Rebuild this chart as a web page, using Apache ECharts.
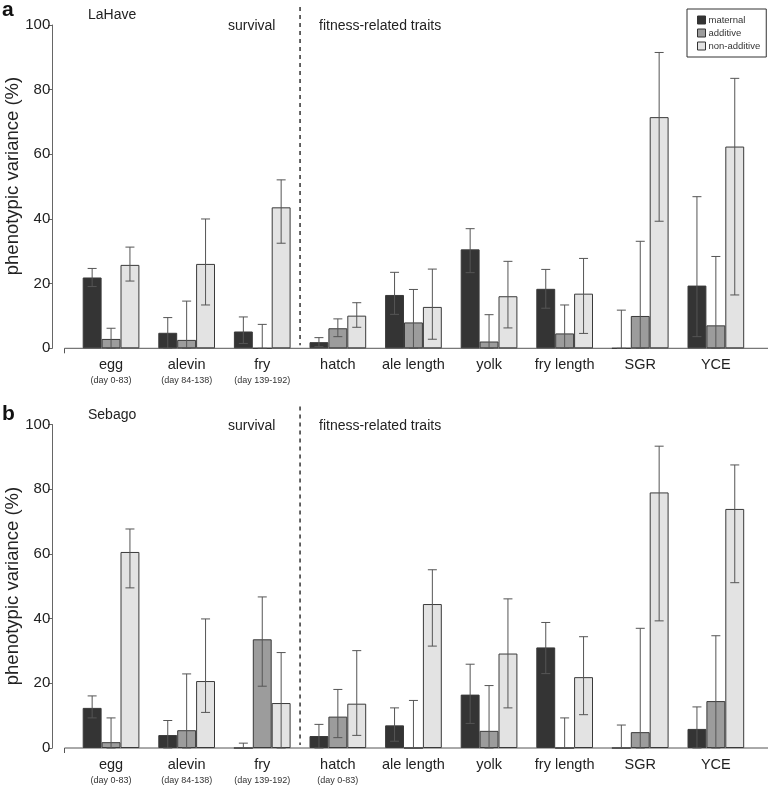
<!DOCTYPE html>
<html><head><meta charset="utf-8">
<script src="https://cdn.jsdelivr.net/npm/echarts@6/dist/echarts.min.js"></script>
<style>html,body{margin:0;padding:0;background:#fff}#c{width:773px;height:790px}</style>
</head><body><div id="c"></div>
<script>
var categories = ['egg','alevin','fry','hatch','ale length','yolk','fry length','SGR','YCE'];
var subLabelsA = ['(day 0-83)','(day 84-138)','(day 139-192)','','','','','',''];
var subLabelsB = ['(day 0-83)','(day 84-138)','(day 139-192)','(day 0-83)','','','','',''];
var seriesNames = ['maternal','additive','non-additive'];
var yTicks = [0,20,40,60,80,100];

// Panel a (LaHave)
var aMaternal    = [21.9, 4.8, 5.2, 1.9, 16.5, 30.6, 18.4, 0, 19.4];
var aMaternalLo  = [19.1, 0, 1.5, 0.5, 10.5, 23.4, 12.4, 0, 3.6];
var aMaternalHi  = [24.7, 9.5, 9.7, 3.3, 23.5, 37.0, 24.4, 11.8, 46.9];
var aAdditive    = [2.9, 2.6, 0, 6.2, 8.0, 2.1, 4.6, 10.0, 7.1];
var aAdditiveLo  = [0, 0, 0, 3.6, 0, 0, 0, 0, 0];
var aAdditiveHi  = [6.2, 14.6, 7.4, 9.1, 18.2, 10.4, 13.4, 33.1, 28.4];
var aNonAdd      = [25.8, 26.1, 43.6, 10.1, 12.8, 16.1, 16.9, 71.5, 62.4];
var aNonAddLo    = [20.8, 13.4, 32.5, 6.5, 2.8, 6.3, 4.6, 39.3, 16.5];
var aNonAddHi    = [31.3, 40.0, 52.1, 14.1, 24.5, 26.9, 27.8, 91.5, 83.5];

// Panel b (Sebago)
var bMaternal    = [12.4, 4.0, 0, 3.7, 7.0, 16.5, 31.1, 0, 5.9];
var bMaternalLo  = [9.3, 0, 0, 0, 2.1, 7.6, 23.0, 0, 0];
var bMaternalHi  = [16.1, 8.5, 1.5, 7.3, 12.4, 25.9, 38.8, 7.1, 12.7];
var bAdditive    = [1.8, 5.5, 33.6, 9.7, 0, 5.3, 0, 4.9, 14.5];
var bAdditiveLo  = [0, 0, 19.1, 3.2, 0, 0, 0, 0, 0];
var bAdditiveHi  = [9.3, 22.9, 46.7, 18.1, 14.7, 19.3, 9.3, 37.0, 34.7];
var bNonAdd      = [60.6, 20.7, 13.9, 13.7, 44.5, 29.2, 21.9, 79.0, 73.9];
var bNonAddLo    = [49.5, 11.0, 0, 3.9, 31.5, 12.4, 10.3, 39.3, 51.1];
var bNonAddHi    = [67.7, 39.9, 29.5, 30.1, 55.1, 46.1, 34.4, 93.3, 87.5];

var colors = ['#343434', '#9c9c9c', '#e3e3e3'];
var FONT = '"Liberation Sans", Arial, sans-serif';

var chart = echarts.init(document.getElementById('c'), null, {renderer:'canvas'});

function errData(lo, hi){ return lo.map(function(l,i){ return [i, l, hi[i]]; }); }
function errRender(k){
  return function(params, api){
    var x = api.value(0), lo = api.value(1), hi = api.value(2);
    var bw = api.size([1,0])[0];
    var cx = api.coord([x,0])[0] + (k-1)*bw/4;
    var yl = api.coord([x,lo])[1], yh = api.coord([x,hi])[1];
    var hw = 4.5;
    var st = {stroke:'#555', lineWidth:1};
    return {type:'group', children:[
      {type:'line', shape:{x1:cx,y1:yl,x2:cx,y2:yh}, style:st},
      {type:'line', shape:{x1:cx-hw,y1:yh,x2:cx+hw,y2:yh}, style:st},
      {type:'line', shape:{x1:cx-hw,y1:yl,x2:cx+hw,y2:yl}, style:st}
    ]};
  };
}

var grids = [
  {left:73.25, right:19.35, top:25, height:323.3},
  {left:73.25, right:19.35, top:424.5, height:323.5}
];
function xAx(gi, subs){
  return {type:'category', gridIndex:gi, data:categories,
    axisLine:{show:false}, axisTick:{show:false},
    axisLabel:{interval:0, margin:8, color:'#222', fontFamily:FONT,
      formatter:function(v,i){ return subs[i] ? '{m|'+v+'}\n{s|'+subs[i]+'}' : '{m|'+v+'}'; },
      rich:{m:{fontSize:14.5, lineHeight:17, fontFamily:FONT, color:'#222'},
            s:{fontSize:9, lineHeight:15, fontFamily:FONT, color:'#333'}}}};
}
function yAx(gi){
  return {type:'value', gridIndex:gi, min:0, max:100, interval:20, offset:21,
    axisLine:{show:true, lineStyle:{color:'#666', width:1}},
    axisTick:{show:true, length:4, lineStyle:{color:'#666'}},
    axisLabel:{margin:2, fontSize:15, color:'#222', fontFamily:FONT},
    splitLine:{show:false}};
}

var series = [];
var panels = [
  {vals:[aMaternal,aAdditive,aNonAdd], lo:[aMaternalLo,aAdditiveLo,aNonAddLo], hi:[aMaternalHi,aAdditiveHi,aNonAddHi]},
  {vals:[bMaternal,bAdditive,bNonAdd], lo:[bMaternalLo,bAdditiveLo,bNonAddLo], hi:[bMaternalHi,bAdditiveHi,bNonAddHi]}
];
panels.forEach(function(p, gi){
  for (var k=0;k<3;k++){
    series.push({type:'bar', name:seriesNames[k], xAxisIndex:gi, yAxisIndex:gi,
      data:p.vals[k], barGap:'0%', barCategoryGap:'25%', silent:true,
      itemStyle:{color:colors[k], borderColor:'#3a3a3a', borderWidth:1}});
  }
  for (var k=0;k<3;k++){
    series.push({type:'custom', xAxisIndex:gi, yAxisIndex:gi, silent:true, z:5,
      data:errData(p.lo[k], p.hi[k]), renderItem:errRender(k), encode:{x:0, y:[1,2]}});
  }
});

chart.setOption({
  animation:false,
  color:colors,
  grid:grids,
  xAxis:[xAx(0, subLabelsA), xAx(1, subLabelsB)],
  yAxis:[yAx(0), yAx(1)],
  legend:{show:true, data:seriesNames, orient:'vertical', left:687, top:9,
    itemWidth:8, itemHeight:8, itemGap:3, padding:[6,6,6,10],
    borderColor:'#333', borderWidth:1, icon:'rect',
    itemStyle:{borderColor:'#333', borderWidth:1},
    textStyle:{fontSize:9.5, color:'#333', fontFamily:FONT, padding:[0,0,0,-2]}},
  series:series
});

// decorations computed from the axes
var g = [];
var texts = [
  {t:'LaHave', x:88, y:15, s:14}, {t:'survival', x:228, y:26, s:14}, {t:'fitness-related traits', x:319, y:26, s:14},
  {t:'Sebago', x:88, y:415, s:14}, {t:'survival', x:228, y:426, s:14}, {t:'fitness-related traits', x:319, y:426, s:14}
];
texts.forEach(function(o){
  g.push({type:'text', x:o.x, y:o.y, style:{text:o.t, fontSize:o.s, fontFamily:FONT, fill:'#222', textVerticalAlign:'middle'}});
});
g.push({type:'text', x:2, y:10, style:{text:'a', fontSize:21, fontWeight:'bold', fontFamily:FONT, fill:'#111', textVerticalAlign:'middle'}});
g.push({type:'text', x:2, y:414, style:{text:'b', fontSize:21, fontWeight:'bold', fontFamily:FONT, fill:'#111', textVerticalAlign:'middle'}});
[176, 586].forEach(function(cy){
  g.push({type:'text', x:13, y:cy, rotation:Math.PI/2, style:{text:'phenotypic variance (%)', fontSize:18.5, fontFamily:FONT, fill:'#222', textAlign:'center', textVerticalAlign:'middle'}});
});
[0,1].forEach(function(gi){
  var p2 = chart.convertToPixel({xAxisIndex:gi, yAxisIndex:gi}, ['fry', 0]);
  var p3 = chart.convertToPixel({xAxisIndex:gi, yAxisIndex:gi}, ['hatch', 100]);
  var xd = (p2[0]+p3[0])/2;
  var y0 = p2[1];
  g.push({type:'line', shape:{x1:64.5, y1:y0, x2:768, y2:y0}, style:{stroke:'#555', lineWidth:1}});
  g.push({type:'line', shape:{x1:64.5, y1:y0, x2:64.5, y2:y0+5}, style:{stroke:'#555', lineWidth:1}});
  g.push({type:'line', shape:{x1:xd, y1:p3[1]-18, x2:xd, y2:y0-3}, style:{stroke:'#333', lineWidth:1.5, lineDash:[4,4]}});
});
chart.setOption({graphic:g});
</script></body></html>
